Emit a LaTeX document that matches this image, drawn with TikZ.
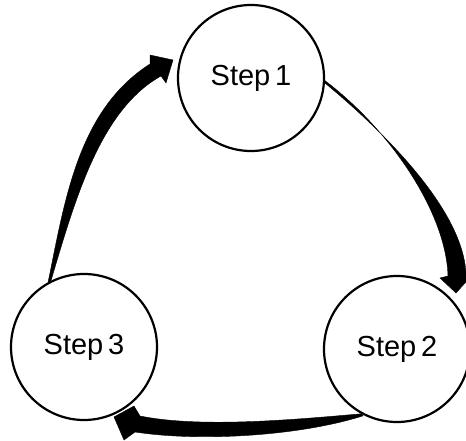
\documentclass[tikz,border=0pt]{standalone}
\usepackage{fontspec}
\newfontfamily\labfont{Liberation Sans}
\begin{document}
\begin{tikzpicture}[x=1pt,y=-1pt,
  stepnode/.style={circle,draw,line width=2.2pt,minimum size=146pt,inner sep=0pt,
    font=\labfont\fontsize{29}{32}\selectfont},
  flowarrow/.style={fill=black,draw=black,line width=0.4pt,line join=miter}]
\useasboundingbox (0,0) rectangle (466,441);
\node[stepnode] (s1) at (251,78) {Step\,1};
\node[stepnode] (s2) at (397,349) {Step\,2};
\node[stepnode] (s3) at (84,347) {Step\,3};
% Step 1 -> Step 2
\coordinate (t12) at (s1.-3);
\fill[flowarrow] ([yshift=-1.2pt]t12) .. controls (372,122) and (463,205) .. (466,274)
  -- (474,273) -- (456,293) -- (440,278) -- (448,276)
  .. controls (446,212) and (390,130) .. ([yshift=1.2pt]t12) -- cycle;
% Step 2 -> Step 3
\coordinate (t23) at (s2.-119);
\fill[flowarrow] (t23) .. controls (290,420) and (200,428) .. (140,416)
  -- (134,406) -- (114,417) -- (124,440) -- (135,432)
  .. controls (200,442) and (300,436) .. ([xshift=2pt,yshift=-2pt]t23) -- cycle;
% Step 3 -> Step 1
\coordinate (t31) at (s3.118);
\fill[flowarrow] ([xshift=-1pt]t31) .. controls (65,200) and (78,110) .. (150,64)
  -- (150,55) -- (173,60) -- (166,83) -- (161,76)
  .. controls (100,110) and (75,200) .. ([xshift=1.5pt]t31) -- cycle;
\end{tikzpicture}
\end{document}
